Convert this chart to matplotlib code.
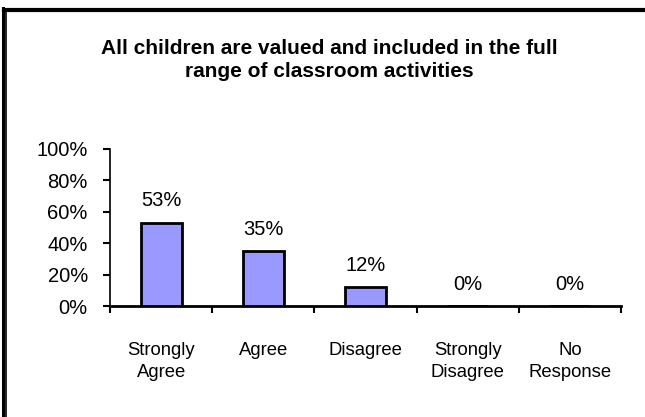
import matplotlib
matplotlib.use("Agg")
import matplotlib.pyplot as plt
from matplotlib.lines import Line2D
from matplotlib.ticker import FuncFormatter

categories = ["Strongly\nAgree", "Agree", "Disagree", "Strongly\nDisagree", "No\nResponse"]
values = [0.53, 0.35, 0.12, 0.0, 0.0]
value_labels = ["53%", "35%", "12%", "0%", "0%"]
yticks = [0, 0.2, 0.4, 0.6, 0.8, 1.0]
title = "All children are valued and included in the full\nrange of classroom activities"

plt.rcParams['font.family'] = ['Liberation Sans', 'DejaVu Sans']

W, H = 645, 417
fig = plt.figure(figsize=(W/100, H/100), dpi=100)
fig.patch.set_facecolor('white')

ax = fig.add_axes([110/W, (H-306)/H, (621-110)/W, (306-149)/H])
x = list(range(len(categories)))
ax.bar(x, values, width=0.4, color='#9999FF', edgecolor='black', linewidth=2, zorder=3)
ax.set_xlim(-0.5, len(categories)-0.5)
ax.set_ylim(0, 1.0)
ax.set_yticks(yticks)
ax.yaxis.set_major_formatter(FuncFormatter(lambda v, p: f"{int(round(v*100))}%"))
ax.set_xticks([i - 0.5 for i in range(len(categories)+1)])
ax.set_xticklabels([])
ax.set_xticks(x, minor=True)
ax.set_xticklabels(categories, minor=True, fontsize=13.3, linespacing=1.4)
ax.tick_params(axis='x', which='minor', length=0, pad=26)
ax.tick_params(axis='x', which='major', length=5, width=1.5, direction='out')
ax.tick_params(axis='y', length=5, width=1.5, direction='out', labelsize=14.5, pad=11)
for s in ['top', 'right']:
    ax.spines[s].set_visible(False)
ax.spines['left'].set_linewidth(1.2)
ax.spines['bottom'].set_linewidth(2)

for xi, v, lab in zip(x, values, value_labels):
    ax.annotate(lab, (xi, v), xytext=(0, 22), textcoords='offset pixels',
                ha='center', va='center', fontsize=14.5)

fig.text(329/W, 1 - 60/H, title, ha='center', va='center', fontsize=15,
         fontweight='bold', linespacing=1.3)

# decorative frame lines
fig.add_artist(Line2D([4/W, 1], [1-9.5/H, 1-9.5/H], color='black', linewidth=3, transform=fig.transFigure))
fig.add_artist(Line2D([2.5/W, 2.5/W], [0, 1-8/H], color='black', linewidth=2.2, transform=fig.transFigure))
fig.add_artist(Line2D([5.5/W, 5.5/W], [0, 1-11/H], color='black', linewidth=1.2, transform=fig.transFigure))

fig.savefig("out.png", dpi=100, facecolor='white')
